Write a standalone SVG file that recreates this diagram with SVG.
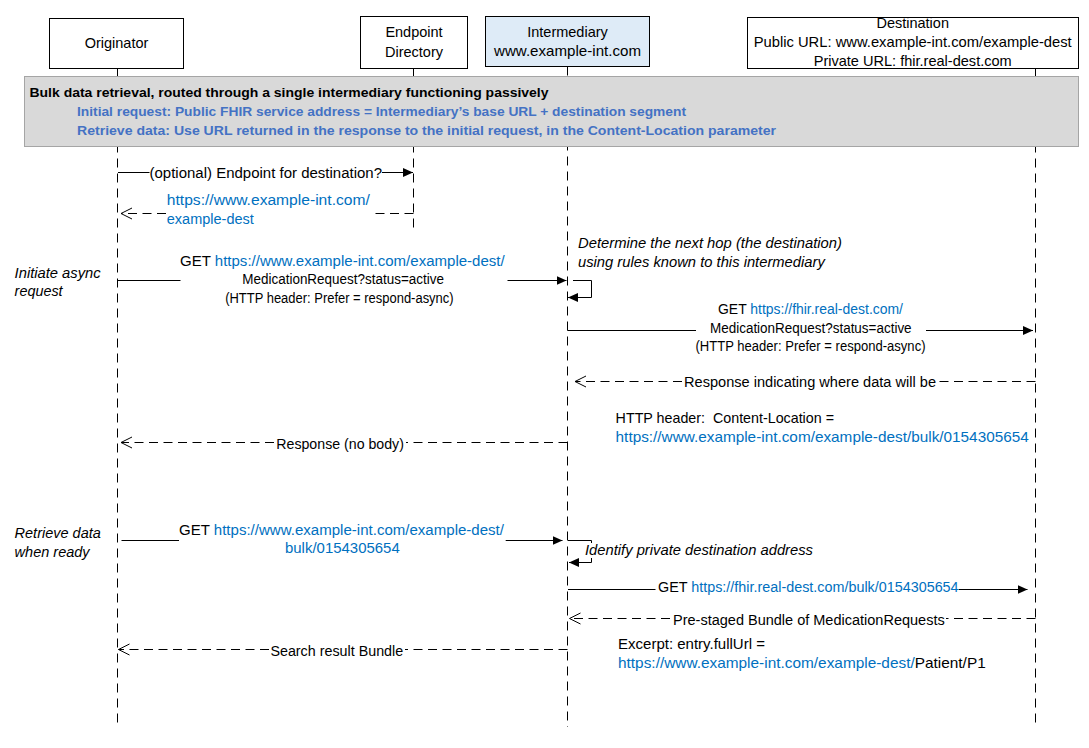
<svg xmlns="http://www.w3.org/2000/svg" width="1089" height="748" viewBox="0 0 1089 748">
  <defs>
    <style>
      text { font-family: "Liberation Sans", Arial, sans-serif; fill: #000; }
      .node { fill: #fff; stroke: #000; stroke-width: 1; }
      .node-int { fill: #DEEBF7; stroke: #000; stroke-width: 1; }
      .life { stroke: #000; stroke-width: 1; stroke-dasharray: 9 6; fill: none; }
      .msg { stroke: #000; stroke-width: 1; fill: none; }
      .ret { stroke: #000; stroke-width: 1; fill: none; stroke-dasharray: 9 5.5; }
      .nt { font-size: 14.5px; text-anchor: middle; }
      .lb { font-size: 14px; }
      .info { font-size: 15px; }
      .it { font-size: 14px; font-style: italic; }
      .bh { font-size: 13px; font-weight: bold; }
      .bb { font-size: 13px; font-weight: bold; fill: #4472C4; }
      .link { fill: #0070C0; }
    </style>
    <marker id="arrowFilled" markerUnits="userSpaceOnUse" markerWidth="11" markerHeight="10" refX="10" refY="4.5" orient="auto">
      <path d="M0,0 L10,4.5 L0,9 z" fill="#000"/>
    </marker>
    <marker id="arrowOpen" markerUnits="userSpaceOnUse" markerWidth="13" markerHeight="13" refX="11.5" refY="6" orient="auto">
      <path d="M0.5,0.5 L11.5,6 L0.5,11.5" fill="none" stroke="#000" stroke-width="1"/>
    </marker>
  </defs>

  <rect width="1089" height="748" fill="#fff"/>

  <!-- lifelines -->
  <g id="lifelines">
    <line class="life" x1="117.5" y1="68.5" x2="117.5" y2="727"/>
    <line class="life" x1="413.5" y1="68.5" x2="413.5" y2="231"/>
    <line class="life" x1="567.5" y1="66.5" x2="567.5" y2="727"/>
    <line class="life" x1="1035.5" y1="68.5" x2="1035.5" y2="727"/>
  </g>

  <!-- participants -->
  <g id="node-originator">
    <rect class="node" x="49.5" y="18.5" width="134" height="50"/>
    <text class="nt" x="116.5" y="48.3">Originator</text>
  </g>
  <g id="node-endpoint-directory">
    <rect class="node" x="360.5" y="16.5" width="107" height="52"/>
    <text class="nt" x="414" y="37.3">Endpoint</text>
    <text class="nt" x="414" y="57.3">Directory</text>
  </g>
  <g id="node-intermediary">
    <rect class="node-int" x="485.5" y="16.5" width="164" height="50"/>
    <text class="nt" x="567.5" y="37.3">Intermediary</text>
    <text class="nt" x="567.5" y="56" textLength="147" lengthAdjust="spacingAndGlyphs">www.example-int.com</text>
  </g>
  <g id="node-destination">
    <rect class="node" x="747.5" y="17.5" width="331" height="51"/>
    <text class="nt" x="912.7" y="28.3">Destination</text>
    <text class="nt" x="912.7" y="47.3" textLength="318" lengthAdjust="spacingAndGlyphs">Public URL: www.example-int.com/example-dest</text>
    <text class="nt" x="912.7" y="66" textLength="198" lengthAdjust="spacingAndGlyphs">Private URL: fhir.real-dest.com</text>
  </g>

  <!-- scenario banner -->
  <g id="note-banner">
    <rect x="24.5" y="76.5" width="1054" height="70" fill="#D9D9D9" stroke="#A5A5A5" stroke-width="1"/>
    <text class="bh" x="29.5" y="97.3" textLength="519" lengthAdjust="spacingAndGlyphs">Bulk data retrieval, routed through a single intermediary functioning passively</text>
    <text class="bb" x="77" y="115.6" textLength="609" lengthAdjust="spacingAndGlyphs">Initial request: Public FHIR service address = Intermediary’s base URL + destination segment</text>
    <text class="bb" x="77" y="134.6" textLength="699" lengthAdjust="spacingAndGlyphs">Retrieve data: Use URL returned in the response to the initial request, in the Content-Location parameter</text>
  </g>

  <!-- messages -->
  <g id="connectors">
    <!-- endpoint lookup -->
    <path class="msg" d="M118,172.5 H149.5"/>
    <path class="msg" d="M382,172.5 H413" marker-end="url(#arrowFilled)"/>
    <text class="lb" x="149.5" y="177.5" textLength="232.5" lengthAdjust="spacingAndGlyphs">(optional) Endpoint for destination?</text>

    <path class="ret" d="M413.5,213.5 H372"/>
    <path class="ret" d="M166,213.5 H121" marker-end="url(#arrowOpen)"/>
    <text class="lb link" x="166.8" y="205" textLength="203" lengthAdjust="spacingAndGlyphs">https://www.example-int.com/</text>
    <text class="lb link" x="166.8" y="224.3" textLength="87" lengthAdjust="spacingAndGlyphs">example-dest</text>

    <!-- initiate async request -->
    <path class="msg" d="M118,280.5 H180.5"/>
    <path class="msg" d="M507.5,280.5 H566.5" marker-end="url(#arrowFilled)"/>
    <text class="lb" x="180" y="266" textLength="324.7" lengthAdjust="spacingAndGlyphs">GET <tspan class="link">https://www.example-int.com/example-dest/</tspan></text>
    <text class="lb" x="242.3" y="284.3" textLength="201.6" lengthAdjust="spacingAndGlyphs">MedicationRequest?status=active</text>
    <text class="lb" x="225.2" y="302.7" textLength="228.4" lengthAdjust="spacingAndGlyphs">(HTTP header: Prefer = respond-async)</text>

    <!-- next-hop self call -->
    <path class="msg" d="M573,280.5 H591.5 V297.5 H568" marker-end="url(#arrowFilled)"/>

    <!-- forward to destination -->
    <path class="msg" d="M567.5,330.5 H696"/>
    <path class="msg" d="M926,330.5 H1033" marker-end="url(#arrowFilled)"/>
    <text class="lb" x="718" y="314.3" textLength="185" lengthAdjust="spacingAndGlyphs">GET <tspan class="link">https://fhir.real-dest.com/</tspan></text>
    <text class="lb" x="710" y="332.7" textLength="201.6" lengthAdjust="spacingAndGlyphs">MedicationRequest?status=active</text>
    <text class="lb" x="695.5" y="351" textLength="230" lengthAdjust="spacingAndGlyphs">(HTTP header: Prefer = respond-async)</text>

    <!-- async accepted -->
    <path class="ret" d="M1035.5,381.5 H938"/>
    <path class="ret" d="M682,381.5 H575" marker-end="url(#arrowOpen)"/>
    <text class="lb" x="684" y="387.3" textLength="252" lengthAdjust="spacingAndGlyphs">Response indicating where data will be</text>

    <path class="ret" d="M567.5,442.5 H406"/>
    <path class="ret" d="M274,442.5 H121" marker-end="url(#arrowOpen)"/>
    <text class="lb" x="276.3" y="448.5" textLength="127.6" lengthAdjust="spacingAndGlyphs">Response (no body)</text>

    <!-- retrieve data -->
    <path class="msg" d="M121.5,540.5 H179"/>
    <path class="msg" d="M505.7,540.5 H562.5" marker-end="url(#arrowFilled)"/>
    <text class="lb" x="179" y="535" textLength="325" lengthAdjust="spacingAndGlyphs">GET <tspan class="link">https://www.example-int.com/example-dest/</tspan></text>
    <text class="lb link" x="285" y="553.3" textLength="114.7" lengthAdjust="spacingAndGlyphs">bulk/0154305654</text>

    <!-- private address self call -->
    <path class="msg" d="M568,540.5 H591.5 V562.5 H569" marker-end="url(#arrowFilled)"/>
    <rect x="583" y="543" width="232" height="15" fill="#fff"/>
    <text class="it" x="585" y="555" textLength="228" lengthAdjust="spacingAndGlyphs">Identify private destination address</text>

    <path class="msg" d="M568,589.5 H655.5"/>
    <path class="msg" d="M958.6,589.5 H1027.5" marker-end="url(#arrowFilled)"/>
    <text class="lb" x="658" y="591.7" textLength="300.6" lengthAdjust="spacingAndGlyphs">GET <tspan class="link">https://fhir.real-dest.com/bulk/0154305654</tspan></text>

    <path class="ret" d="M1035.5,618.5 H946"/>
    <path class="ret" d="M670,618.5 H569.5" marker-end="url(#arrowOpen)"/>
    <text class="lb" x="673" y="624.8" textLength="271.7" lengthAdjust="spacingAndGlyphs">Pre-staged Bundle of MedicationRequests</text>

    <path class="ret" d="M567.5,649.5 H405"/>
    <path class="ret" d="M269,649.5 H118.5" marker-end="url(#arrowOpen)"/>
    <text class="lb" x="270.4" y="655.5" textLength="132.8" lengthAdjust="spacingAndGlyphs">Search result Bundle</text>
  </g>

  <!-- side notes and payload details -->
  <g id="annotations">
    <text class="it" x="14.6" y="277.7" textLength="86" lengthAdjust="spacingAndGlyphs">Initiate async</text>
    <text class="it" x="14.6" y="296" textLength="48" lengthAdjust="spacingAndGlyphs">request</text>

    <text class="it" x="578" y="247.7" textLength="264" lengthAdjust="spacingAndGlyphs">Determine the next hop (the destination)</text>
    <text class="it" x="578" y="266.7" textLength="246.8" lengthAdjust="spacingAndGlyphs">using rules known to this intermediary</text>

    <text class="info" x="615.6" y="423.3" xml:space="preserve" textLength="218.4" lengthAdjust="spacingAndGlyphs">HTTP header:  Content-Location =</text>
    <text class="info link" x="615.6" y="442.3" textLength="413.2" lengthAdjust="spacingAndGlyphs">https://www.example-int.com/example-dest/bulk/0154305654</text>

    <text class="it" x="14.6" y="538.3" textLength="86.2" lengthAdjust="spacingAndGlyphs">Retrieve data</text>
    <text class="it" x="14.6" y="557.3" textLength="75" lengthAdjust="spacingAndGlyphs">when ready</text>

    <text class="info" x="618" y="649.3" textLength="147" lengthAdjust="spacingAndGlyphs">Excerpt: entry.fullUrl =</text>
    <text class="info" x="618" y="668.3" textLength="367.7" lengthAdjust="spacingAndGlyphs"><tspan class="link">https://www.example-int.com/example-dest/</tspan>Patient/P1</text>
  </g>
</svg>
